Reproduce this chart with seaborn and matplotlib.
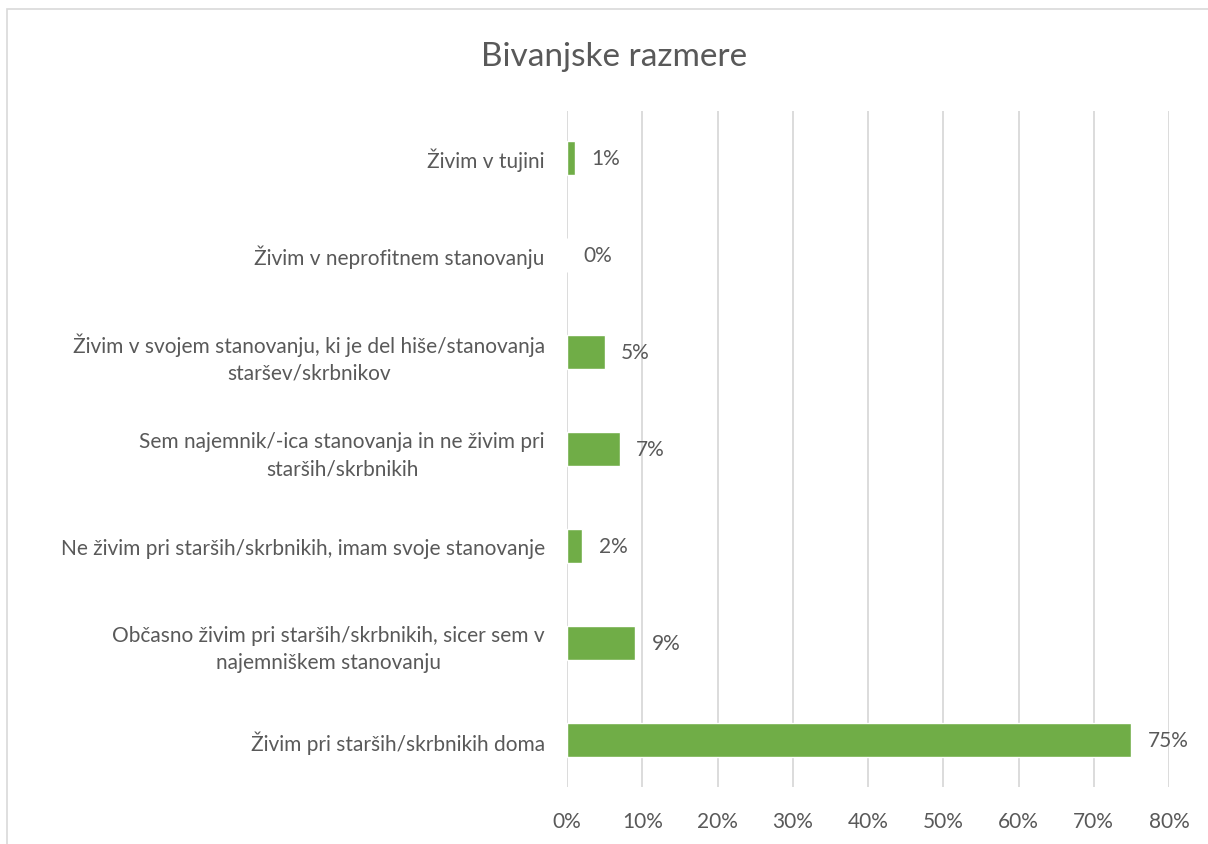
"""
Bivanjske razmere - horizontal bar chart
"""

import pandas as pd
import matplotlib.pyplot as plt
import seaborn as sns
from matplotlib.patches import Rectangle
from matplotlib.ticker import FuncFormatter

# Data (top to bottom as in the chart)
categories = [
    'Živim v tujini',
    'Živim v neprofitnem stanovanju',
    'Živim v svojem stanovanju, ki je del hiše/stanovanja\nstaršev/skrbnikov',
    'Sem najemnik/-ica stanovanja in ne živim pri\nstarših/skrbnikih',
    'Ne živim pri starših/skrbnikih, imam svoje stanovanje',
    'Občasno živim pri starših/skrbnikih, sicer sem v\nnajemniškem stanovanju',
    'Živim pri starših/skrbnikih doma',
]
shares = [1, 0, 5, 7, 2, 9, 75]
x_ticks = [0, 10, 20, 30, 40, 50, 60, 70, 80]

df = pd.DataFrame({'Kategorija': categories, 'Delez': shares})

sns.set_style("white")
plt.rcParams['font.family'] = ['Lato', 'DejaVu Sans']

text_color = '#595959'
grid_color = '#D9D9D9'
bar_color = '#70AD47'

fig = plt.figure(figsize=(12.08, 8.45), dpi=100)
ax = fig.add_axes([567 / 1208, 1 - 788 / 845, (1169 - 567) / 1208, (788 - 112) / 845])

sns.barplot(data=df, x='Delez', y='Kategorija', orient='h', color=bar_color,
            width=0.35, saturation=1, ax=ax)

ax.set_xlim(0, 80)
ax.set_ylim(len(categories) - 0.52, -0.48)
ax.set_xticks(x_ticks)
ax.xaxis.set_major_formatter(FuncFormatter(lambda v, p: f'{v:.0f}%'))
ax.grid(True, axis='x', color=grid_color, linewidth=1.3)
ax.set_axisbelow(True)
for s in ax.spines.values():
    s.set_visible(False)
ax.tick_params(axis='both', length=0, labelsize=15, colors=text_color)
ax.tick_params(axis='y', pad=16)
ax.tick_params(axis='x', pad=17)
for lbl in ax.get_yticklabels():
    lbl.set_multialignment('center')
    lbl.set_linespacing(1.45)
ax.set_xlabel('')
ax.set_ylabel('')

# Value labels
for i, v in enumerate(shares):
    ax.annotate(f'{v}%', xy=(v, i), xytext=(12, 0), textcoords='offset points',
                va='center', ha='left', fontsize=15, color=text_color)

fig.text(614 / 1208, 1 - 57 / 845, 'Bivanjske razmere',
         ha='center', va='center', fontsize=24, color=text_color)

# Chart border
fig.patches.append(Rectangle((7 / 1208, -0.1), 1.2, 1.1 - 10 / 845,
                             transform=fig.transFigure, fill=False,
                             edgecolor=grid_color, linewidth=1.2))

fig.savefig('out.png', dpi=100)
plt.close()
